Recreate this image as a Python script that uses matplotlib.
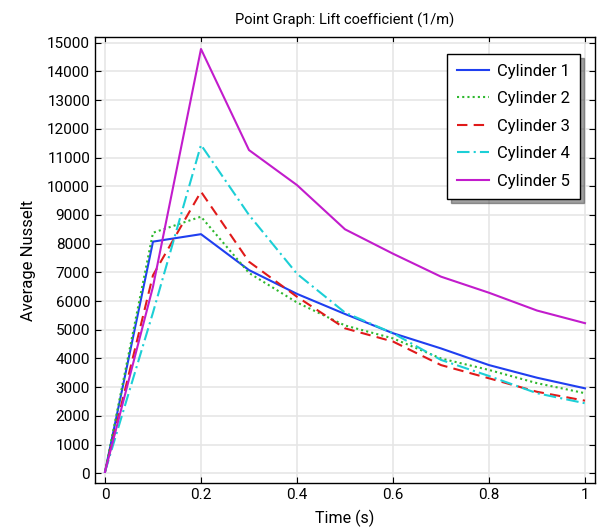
import matplotlib
import numpy as np

matplotlib.use("Agg")
import matplotlib.pyplot as plt

time_s = [0, 0.1, 0.2, 0.3, 0.4, 0.5, 0.6, 0.7, 0.8, 0.9, 1.0]
cyl1 = [50, 8070, 8330, 7080, 6250, 5550, 4880, 4350, 3770, 3330, 2960]
cyl2 = [50, 8380, 8940, 6980, 5950, 5150, 4700, 4000, 3600, 3140, 2790]
cyl3 = [50, 6900, 9810, 7370, 6150, 5050, 4590, 3770, 3310, 2840, 2530]
cyl4 = [50, 5600, 11440, 9000, 6950, 5600, 4880, 3950, 3390, 2790, 2440]
cyl5 = [50, 6500, 14780, 11260, 10040, 8500, 7650, 6850, 6290, 5670, 5230]
labels = ["Cylinder 1", "Cylinder 2", "Cylinder 3", "Cylinder 4", "Cylinder 5"]

plt.rcParams["font.family"] = ["Roboto", "DejaVu Sans"]

fig = plt.figure(figsize=(5.99, 5.28), dpi=100)
ax = fig.add_axes([0.1586, 0.0852, 0.8347, 0.8448])

styles = [
    dict(color="#1f3ff0", linestyle="-"),
    dict(color="#2fb82f", linestyle=(0, (1, 1.5))),
    dict(color="#e01a1a", linestyle=(0, (5, 3))),
    dict(color="#1ccfd6", linestyle=(0, (6, 2, 1, 2))),
    dict(color="#c21ccc", linestyle="-"),
]
for vals, lab, st in zip([cyl1, cyl2, cyl3, cyl4, cyl5], labels, styles):
    ax.plot(time_s, vals, linewidth=1.5, label=lab, **st)

ax.set_xlim(-0.0208, 1.0208)
ax.set_ylim(-338, 15200)
ax.set_xticks([0, 0.2, 0.4, 0.6, 0.8, 1.0])
ax.set_xticklabels(["0", "0.2", "0.4", "0.6", "0.8", "1"])
ax.set_yticks(np.arange(0, 15001, 1000))
ax.grid(True, color="#e6e6e6", linewidth=1.2)
ax.set_axisbelow(True)
ax.tick_params(direction="in", top=True, right=True, labelsize=11, length=4)
for sp in ax.spines.values():
    sp.set_linewidth(1.0)

ax.set_xlabel("Time (s)", fontsize=11.5, labelpad=6)
ax.set_ylabel("Average Nusselt", fontsize=12, labelpad=8)
ax.set_title("Point Graph: Lift coefficient (1/m)", fontsize=10.5, pad=9)

leg = ax.legend(loc="upper right", bbox_to_anchor=(0.977, 0.97), fontsize=12,
                fancybox=False, shadow={"ox": 3, "oy": -3, "color": "#444444"},
                framealpha=1, edgecolor="black",
                handlelength=1.9, handletextpad=0.5, labelspacing=0.75,
                borderpad=0.6, borderaxespad=0.2)
leg.get_frame().set_linewidth(1.0)

plt.savefig("out.png", dpi=100)
plt.close()
